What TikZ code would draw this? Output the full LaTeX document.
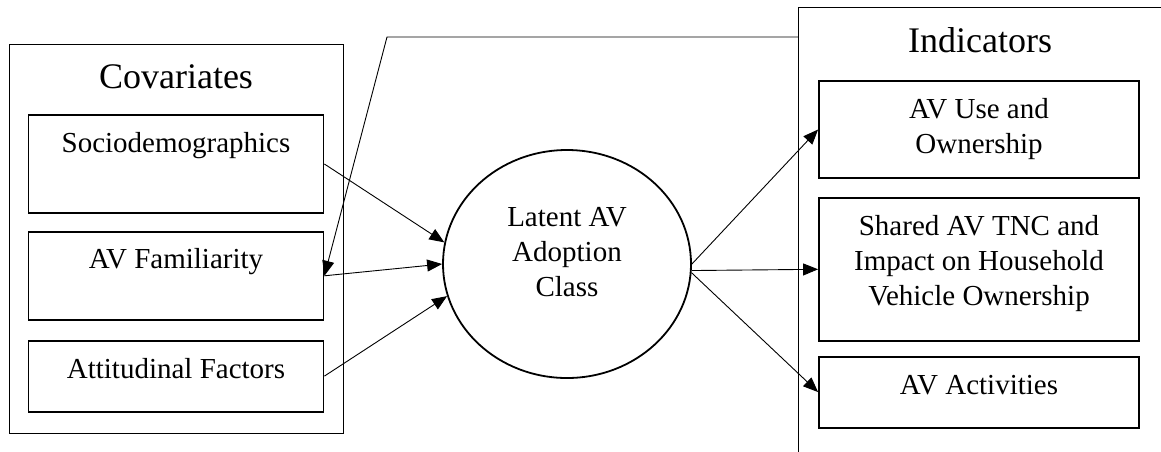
\documentclass[tikz,border=0pt]{standalone}
\usepackage{fontspec}
\setmainfont{Liberation Serif}
\usetikzlibrary{arrows.meta,positioning,shapes.geometric}

\begin{document}
\begin{tikzpicture}[
    x=1pt, y=-1pt,
    font=\fontsize{29}{35}\selectfont,
    frame/.style={draw, line width=0.9pt, inner sep=0pt},
    ttl/.style={font=\fontsize{36}{42}\selectfont, anchor=base},
    cov/.style={
      draw, line width=1.8pt, align=center,
      minimum width=295pt, inner xsep=0pt, inner ysep=0pt
    },
    ind/.style={
      draw, line width=1.8pt, align=center,
      minimum width=320pt, inner xsep=0pt
    },
    lat/.style={
      draw, ellipse, line width=1.8pt, align=center,
      minimum width=248pt, minimum height=228pt, inner sep=0pt
    },
    arr/.style={line width=0.9pt, -{Triangle[length=15pt,width=12pt]}}
  ]
    \useasboundingbox (0,0) rectangle (1161,451);
    \clip (0,0) rectangle (1161,451);

    % outer frames and their titles
    \node[frame, minimum width=334pt, minimum height=389pt] (covs) at (176,238.5) {};
    \node[frame, anchor=north west, minimum width=420pt, minimum height=480pt] (inds) at (798,7) {};
    \node[ttl] (covt) at (176,88) {Covariates};
    \node[ttl] (indt) at (980,52) {Indicators};

    % covariates
    \node[cov, text height=37pt, text depth=61pt] (socio) at (176,164) {Sociodemographics};
    \node[cov, text height=37pt, text depth=51pt, below=17pt of socio] (fam) {AV Familiarity};
    \node[cov, text height=38pt, text depth=33pt, below=19pt of fam] (att) {Attitudinal Factors};

    % indicators
    \node[ind, minimum height=97pt] (use) at (979,129.5) {AV Use and\\Ownership};
    \node[ind, minimum height=143pt, text depth=17pt, below=18pt of use] (tnc) {Shared AV TNC and\\Impact on Household\\Vehicle Ownership};
    \node[ind, inner ysep=0pt, text height=38pt, text depth=33pt, below=14pt of tnc] (act) {AV Activities};

    % latent class
    \node[lat, text depth=24pt] (lac) at (567,264) {Latent AV\\Adoption\\Class};

    % covariates in, indicators out
    \draw[arr] (socio.east) -- (lac.170);
    \draw[arr] (fam.east) -- (lac.180);
    \draw[arr] (att.east) -- (lac.195);
    \draw[arr] (lac.east) -- (use.west);
    \draw[arr] (lac.-3) -- (tnc.west);
    \draw[arr] (lac.-4) -- (act.west);

    % feedback from the indicators
    \coordinate (turn) at (387,37);
    \draw[arr] (inds.west |- turn) -- (turn) -- (fam.east);
\end{tikzpicture}
\end{document}
